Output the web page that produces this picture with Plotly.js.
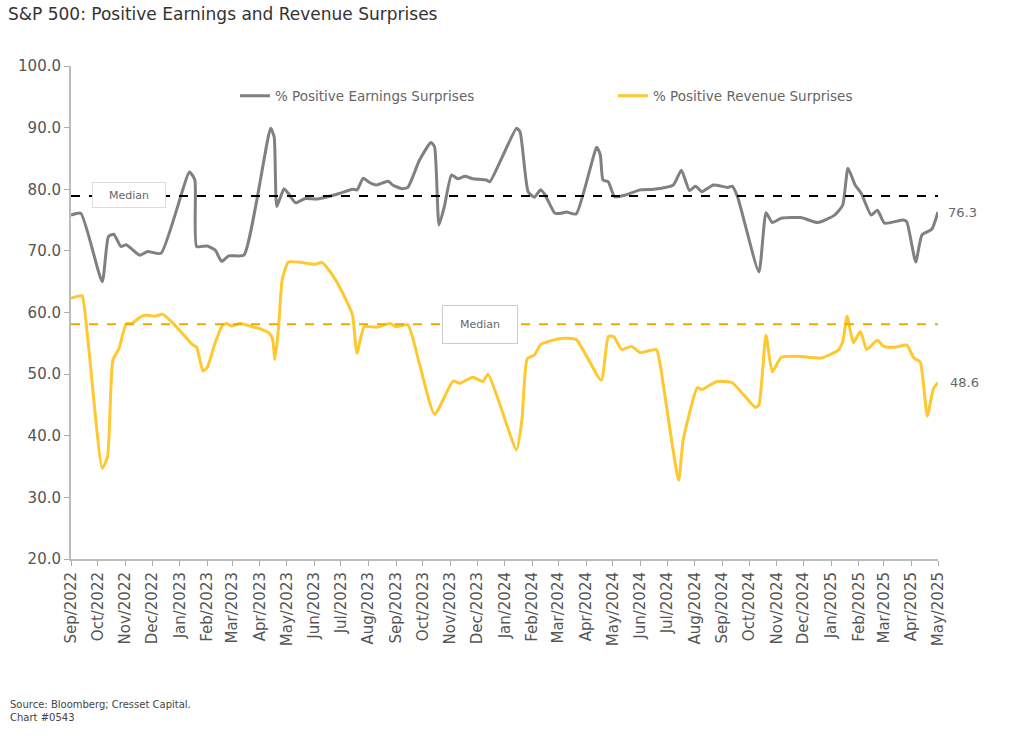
<!DOCTYPE html>
<html>
<head>
<meta charset="utf-8">
<script src="https://cdn.plot.ly/plotly-3.0.1.min.js"></script>
<style>
  html, body { margin: 0; padding: 0; background: #fff; }
  #chart { width: 1024px; height: 745px; }
</style>
</head>
<body>
<div id="chart"></div>
<script>
// % positive earnings surprises
var earnDates = [
  "2022-09-01","2022-09-12","2022-10-06","2022-10-13","2022-10-19","2022-10-27","2022-11-02","2022-11-17",
  "2022-11-26","2022-12-11","2023-01-12","2023-01-18","2023-01-20","2023-02-01","2023-02-10","2023-02-17",
  "2023-02-25","2023-03-14","2023-04-13","2023-04-17","2023-04-20","2023-04-28","2023-05-03","2023-05-11",
  "2023-05-22","2023-06-03","2023-06-14","2023-06-29","2023-07-14","2023-07-19","2023-07-26","2023-08-02",
  "2023-08-10","2023-08-23","2023-08-28","2023-09-07","2023-09-14","2023-09-27","2023-10-10","2023-10-14",
  "2023-10-19","2023-10-25","2023-11-02","2023-11-09","2023-11-17","2023-11-26","2023-12-11","2023-12-15",
  "2024-01-14","2024-01-18","2024-01-27","2024-02-03","2024-02-10","2024-02-15","2024-02-26","2024-03-04",
  "2024-03-10","2024-03-21","2024-04-13","2024-04-17","2024-04-20","2024-04-26","2024-05-03","2024-05-16",
  "2024-06-01","2024-06-16","2024-07-08","2024-07-17","2024-07-26","2024-08-02","2024-08-09","2024-08-22",
  "2024-09-07","2024-09-12","2024-09-18","2024-10-12","2024-10-20","2024-10-27","2024-11-06","2024-11-28",
  "2024-12-17","2025-01-05","2025-01-14","2025-01-20","2025-01-28","2025-02-04","2025-02-15","2025-02-22",
  "2025-03-02","2025-03-23","2025-03-27","2025-04-06","2025-04-13","2025-04-24","2025-05-01"
];
var earnVals = [
  75.8, 76.1, 65.0, 72.3, 72.7, 70.7, 71.0, 69.3,
  69.9, 69.6, 82.8, 81.5, 70.7, 70.8, 70.1, 68.3,
  69.2, 69.3, 89.9, 88.5, 77.2, 80.1, 79.3, 77.8,
  78.5, 78.4, 78.7, 79.3, 80.0, 79.9, 81.8, 81.1,
  80.7, 81.3, 80.7, 80.1, 80.3, 84.7, 87.6, 86.9,
  74.2, 77.2, 82.3, 81.7, 82.1, 81.7, 81.5, 81.2,
  89.9, 89.3, 79.6, 78.7, 79.9, 79.1, 76.1, 76.1,
  76.3, 76.0, 86.8, 85.6, 81.5, 81.2, 78.8, 79.1,
  79.9, 80.0, 80.7, 83.1, 79.8, 80.5, 79.6, 80.7,
  80.3, 80.5, 78.8, 66.6, 76.2, 74.6, 75.3, 75.4,
  74.6, 75.8, 77.4, 83.4, 80.7, 79.3, 75.8, 76.6,
  74.5, 75.0, 74.7, 68.2, 72.6, 73.5, 76.3
];

// % positive revenue surprises
var revDates = [
  "2022-09-01","2022-09-12","2022-09-14","2022-10-06","2022-10-12","2022-10-18","2022-10-25","2022-11-02",
  "2022-11-08","2022-11-17","2022-11-24","2022-12-04","2022-12-13","2022-12-25","2023-01-16","2023-01-20",
  "2023-01-27","2023-02-01","2023-02-10","2023-02-18","2023-02-23","2023-02-28","2023-03-10","2023-03-21",
  "2023-03-31","2023-04-11","2023-04-15","2023-04-18","2023-04-22","2023-04-26","2023-05-03","2023-05-18",
  "2023-06-01","2023-06-10","2023-06-25","2023-07-10","2023-07-14","2023-07-19","2023-07-27","2023-08-10",
  "2023-08-25","2023-09-01","2023-09-14","2023-09-27","2023-10-14","2023-11-04","2023-11-11","2023-11-26",
  "2023-12-07","2023-12-13","2023-12-26","2024-01-14","2024-01-20","2024-01-26","2024-02-03","2024-02-10",
  "2024-02-21","2024-03-04","2024-03-21","2024-04-18","2024-04-26","2024-05-02","2024-05-11","2024-05-22",
  "2024-06-01","2024-06-19","2024-06-23","2024-07-14","2024-07-19","2024-08-04","2024-08-09","2024-08-26",
  "2024-09-12","2024-10-08","2024-10-12","2024-10-20","2024-10-27","2024-11-06","2024-11-25","2024-12-21",
  "2025-01-09","2025-01-14","2025-01-19","2025-01-26","2025-02-03","2025-02-10","2025-02-22","2025-03-01",
  "2025-03-15","2025-03-27","2025-04-04","2025-04-11","2025-04-19","2025-04-26","2025-05-01"
];
var revVals = [
  62.3, 62.7, 62.6, 34.7, 36.6, 52.3, 54.2, 58.2,
  58.2, 59.2, 59.6, 59.4, 59.7, 58.2, 54.7, 54.4,
  50.5, 51.1, 55.2, 57.9, 58.2, 57.8, 58.2, 57.8,
  57.4, 56.7, 55.8, 52.4, 57.7, 65.3, 68.2, 68.1,
  67.8, 68.1, 65.3, 61.0, 59.6, 53.4, 57.7, 57.6,
  58.2, 57.7, 58.0, 51.7, 43.5, 48.9, 48.5, 49.5,
  48.8, 50.0, 45.2, 37.7, 42.5, 52.5, 53.1, 54.8,
  55.4, 55.8, 55.6, 49.0, 56.1, 56.1, 54.0, 54.5,
  53.5, 54.0, 51.7, 32.8, 39.3, 47.8, 47.5, 48.8,
  48.6, 44.6, 45.0, 56.3, 50.4, 52.7, 52.9, 52.6,
  53.9, 55.2, 59.4, 55.1, 56.9, 54.0, 55.5, 54.5,
  54.4, 54.7, 52.6, 52.0, 43.2, 47.7, 48.6
];

var medianEarn = 78.9;
var medianRev = 58.1;
var xStart = "2022-09-01", xEnd = "2025-05-01";

var FONT = "DejaVu Sans, sans-serif";
var GRAY = "#808080", YELLOW = "#ffc82e", MED_YELLOW = "#e8ac00";

var traces = [
  {
    x: earnDates, y: earnVals, type: "scatter", mode: "lines",
    name: "% Positive Earnings Surprises",
    line: { color: GRAY, width: 3, shape: "spline", smoothing: 0.5 }
  },
  {
    x: revDates, y: revVals, type: "scatter", mode: "lines",
    name: "% Positive Revenue Surprises",
    line: { color: YELLOW, width: 3, shape: "spline", smoothing: 0.5 }
  }
];

var lastE = earnVals[earnVals.length - 1];
var lastR = revVals[revVals.length - 1];

var layout = {
  width: 1024, height: 745,
  margin: { l: 71, r: 86, t: 66, b: 186 },
  paper_bgcolor: "#fff", plot_bgcolor: "#fff",
  font: { family: FONT, color: "#555" },
  title: {
    text: "S&P 500: Positive Earnings and Revenue Surprises",
    font: { family: FONT, size: 17, color: "#333" },
    xref: "container", yref: "container",
    x: 8 / 1024, xanchor: "left", y: 1 - 14 / 745, yanchor: "middle"
  },
  showlegend: true,
  legend: {
    orientation: "h", x: (235 - 71) / 867, y: (559 - 96) / 493, xanchor: "left", yanchor: "middle",
    font: { family: FONT, size: 13.5, color: "#666" },
    entrywidth: 333, entrywidthmode: "pixels", itemwidth: 30,
    bgcolor: "rgba(0,0,0,0)"
  },
  xaxis: {
    type: "date", range: [xStart, xEnd],
    tickformat: "%b/%Y", dtick: "M1", tick0: xStart, tickangle: -90,
    tickfont: { family: FONT, size: 15, color: "#555" },
    ticks: "outside", ticklen: 5, tickcolor: "#aaa",
    showline: true, linecolor: "#bbb", linewidth: 2,
    showgrid: false, zeroline: false
  },
  yaxis: {
    range: [20, 100], dtick: 10, tickformat: ".1f",
    tickfont: { family: FONT, size: 15, color: "#555" },
    ticks: "outside", ticklen: 5, tickcolor: "#aaa",
    showline: true, linecolor: "#bbb", linewidth: 2,
    showgrid: false, zeroline: false
  },
  shapes: [
    { type: "line", xref: "paper", x0: 0, x1: 1, yref: "y", y0: medianEarn, y1: medianEarn,
      line: { color: "#000", width: 2, dash: "dash" } },
    { type: "line", xref: "paper", x0: 0, x1: 1, yref: "y", y0: medianRev, y1: medianRev,
      line: { color: MED_YELLOW, width: 2, dash: "dash" } }
  ],
  annotations: [
    { text: "Median", xref: "paper", yref: "y", x: (129 - 71) / 867, y: medianEarn, yshift: 1,
      xanchor: "center", yanchor: "middle",
      showarrow: false, width: 70, height: 22, bgcolor: "#fff", bordercolor: "#ddd", borderwidth: 1,
      font: { family: FONT, size: 11, color: "#666" } },
    { text: "Median", xref: "paper", yref: "y", x: (480 - 71) / 867, y: medianRev,
      xanchor: "center", yanchor: "middle",
      showarrow: false, width: 72, height: 35, bgcolor: "#fff", bordercolor: "#ccc", borderwidth: 1,
      font: { family: FONT, size: 11, color: "#666" } },
    { text: lastE.toFixed(1), xref: "x", yref: "y", x: xEnd, y: lastE, xanchor: "left", xshift: 8,
      showarrow: false, font: { family: FONT, size: 13, color: "#666" } },
    { text: lastR.toFixed(1), xref: "x", yref: "y", x: xEnd, y: lastR, xanchor: "left", xshift: 10,
      showarrow: false, font: { family: FONT, size: 13, color: "#666" } },
    { text: "Source: Bloomberg; Cresset Capital.<br>Chart #0543", xref: "paper", yref: "paper",
      x: -(71 - 8) / 867, y: (559 - 697) / 493, xanchor: "left", yanchor: "top", align: "left",
      showarrow: false, font: { family: FONT, size: 10, color: "#444" } }
  ]
};

Plotly.newPlot("chart", traces, layout, { displayModeBar: false, staticPlot: true });
</script>
</body>
</html>
